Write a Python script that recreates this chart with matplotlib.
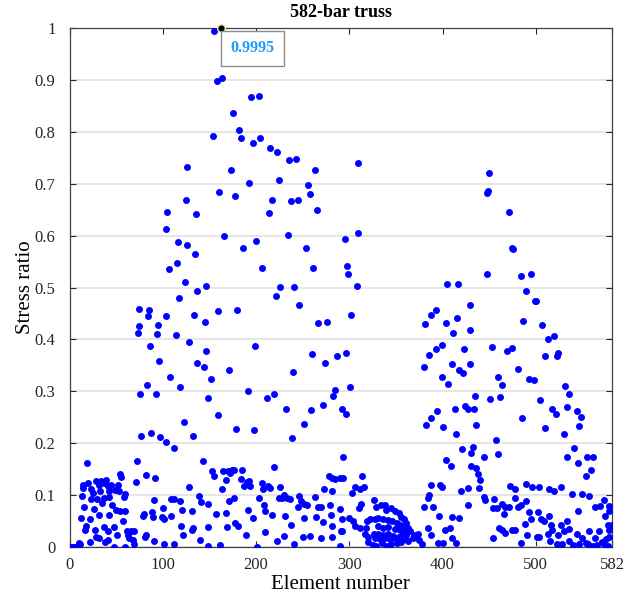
import numpy as np
import matplotlib.pyplot as plt

plt.rcParams['font.family'] = ['Liberation Serif', 'DejaVu Serif']

# first arch (elements ~70-310), upper points
elem_arch1 = [155, 158, 154, 126, 160, 125, 105, 136, 104, 116, 126, 135, 115, 107, 124, 146, 137, 117,
              75, 85, 84, 104, 134, 159, 74, 95, 145, 73, 94, 114, 86, 128, 146, 96, 137, 144, 108, 152,
              83, 118, 76, 93, 148, 159, 123, 77, 87, 97, 103, 132, 112, 72, 143, 153, 155,
              162, 164, 195, 203, 175, 182, 184, 197, 204, 215, 223, 235, 243, 263, 309, 173, 193, 225,
              256, 258, 177, 217, 237, 245, 214, 265, 166, 200, 234, 186, 254, 295, 309, 206, 261, 298,
              299, 221, 226, 241, 246, 308, 180, 267, 276, 302, 199, 260, 287, 296, 171, 274, 240, 191,
              212, 219, 283, 285, 301, 232, 259, 272, 292, 297, 252, 179, 198, 239, 293]
ratio_arch1 = [0.995, 0.898, 0.792, 0.733, 0.684, 0.668, 0.645, 0.641, 0.613, 0.588, 0.583, 0.565, 0.548,
               0.536, 0.511, 0.503, 0.493, 0.479, 0.459, 0.457, 0.445, 0.446, 0.448, 0.454, 0.426, 0.427,
               0.434, 0.412, 0.411, 0.408, 0.388, 0.395, 0.378, 0.359, 0.355, 0.347, 0.328, 0.324, 0.312,
               0.308, 0.294, 0.294, 0.287, 0.255, 0.240, 0.214, 0.219, 0.212, 0.202, 0.213, 0.190, 0.165,
               0.166, 0.147, 0.136,
               0.9995, 0.904, 0.868, 0.869, 0.837, 0.804, 0.788, 0.779, 0.788, 0.769, 0.761, 0.745, 0.747,
               0.727, 0.741, 0.726, 0.701, 0.708, 0.697, 0.681, 0.677, 0.668, 0.666, 0.669, 0.643, 0.650,
               0.599, 0.589, 0.601, 0.576, 0.577, 0.594, 0.606, 0.537, 0.537, 0.542, 0.526, 0.484, 0.501,
               0.501, 0.467, 0.503, 0.456, 0.431, 0.434, 0.448, 0.388, 0.372, 0.368, 0.373, 0.342, 0.355,
               0.337, 0.300, 0.288, 0.294, 0.291, 0.302, 0.309, 0.266, 0.264, 0.273, 0.265, 0.257, 0.237,
               0.227, 0.225, 0.210, 0.173]

# second arch (elements ~380-560), upper points
elem_arch2 = [450, 448, 449, 448, 405, 417, 429, 381, 388, 393, 404, 416, 411, 429, 453, 399, 393, 386,
              423, 380, 410, 430, 418, 422, 399, 406, 459, 435, 451, 394, 388, 382, 400, 413, 424, 427,
              434, 436, 415, 457, 445, 404, 409, 421, 433, 431, 460,
              471, 474, 476, 484, 495, 489, 499, 500, 486, 507, 513, 520, 469, 474, 510, 523, 524, 481,
              464, 493, 498, 462, 531, 536, 505, 517, 522, 534, 544, 549, 546, 485, 510, 530, 541, 534,
              545, 555, 561, 559, 554]
ratio_arch2 = [0.721, 0.682, 0.686, 0.526, 0.507, 0.507, 0.467, 0.430, 0.447, 0.456, 0.431, 0.441, 0.412,
               0.418, 0.385, 0.389, 0.381, 0.370, 0.381, 0.347, 0.353, 0.353, 0.342, 0.335, 0.328, 0.314,
               0.328, 0.291, 0.286, 0.262, 0.248, 0.235, 0.232, 0.266, 0.272, 0.265, 0.266, 0.235, 0.218,
               0.207, 0.174, 0.168, 0.156, 0.188, 0.192, 0.182, 0.180,
               0.645, 0.577, 0.574, 0.523, 0.527, 0.493, 0.475, 0.475, 0.436, 0.428, 0.401, 0.406, 0.378,
               0.384, 0.369, 0.369, 0.373, 0.344, 0.312, 0.323, 0.322, 0.290, 0.311, 0.295, 0.283, 0.265,
               0.257, 0.269, 0.263, 0.251, 0.233, 0.249, 0.229, 0.218, 0.190, 0.174, 0.162, 0.174, 0.173,
               0.148, 0.136]

# low band, elements 0-300
elem_low1 = [19, 54, 55, 82, 92, 71, 128, 139, 14, 20, 14, 28, 34, 39, 32, 37, 41, 44, 23, 25, 33, 42, 52,
             49, 53, 60, 58, 13, 23, 30, 37, 42, 35, 46, 16, 26, 50, 54, 60, 32, 42, 12, 22, 57, 18, 37,
             48, 17, 27, 62, 66, 69, 41, 51, 28, 32, 41, 38, 22, 63, 64, 68, 69, 48, 59, 10, 1, 3, 5, 7,
             9, 11, 80, 79, 89, 90, 100, 99, 101, 109, 91, 109, 112, 119, 121, 131, 81, 82, 91, 101, 112,
             120, 122, 131, 132, 140, 141,
             165, 170, 174, 176, 185, 168, 172, 184, 187, 190, 194, 193, 164, 206, 208, 213, 215, 219,
             226, 225, 228, 230, 233, 236, 246, 248, 252, 255, 245, 263, 267, 270, 273, 282, 278, 281,
             285, 290, 293, 148, 171, 176, 157, 168, 191, 203, 209, 210, 217, 231, 251, 264, 272, 279,
             280, 290, 149, 169, 178, 181, 197, 237, 281, 291, 189, 210, 222, 230, 250, 258, 270, 282,
             149, 161, 201, 241, 290]
ratio_low1 = [0.161, 0.141, 0.135, 0.138, 0.133, 0.125, 0.115, 0.099, 0.119, 0.123, 0.113, 0.127, 0.128,
              0.129, 0.120, 0.123, 0.117, 0.120, 0.111, 0.105, 0.108, 0.108, 0.120, 0.109, 0.107, 0.103,
              0.097, 0.099, 0.093, 0.093, 0.095, 0.097, 0.085, 0.080, 0.078, 0.073, 0.071, 0.070, 0.070,
              0.062, 0.061, 0.056, 0.053, 0.050, 0.041, 0.039, 0.039, 0.032, 0.032, 0.030, 0.030, 0.030,
              0.030, 0.023, 0.020, 0.017, 0.013, 0.010, 0.010, 0.023, 0.017, 0.013, 0.005, 0.000, 0.000,
              0.008, 0.000, 0.000, 0.000, 0.000, 0.000, 0.005, 0.063, 0.060, 0.067, 0.057, 0.075, 0.057,
              0.053, 0.059, 0.091, 0.093, 0.092, 0.089, 0.072, 0.070, 0.020, 0.023, 0.011, 0.005, 0.005,
              0.040, 0.023, 0.033, 0.037, 0.013, 0.087,
              0.147, 0.147, 0.149, 0.149, 0.148, 0.130, 0.143, 0.131, 0.118, 0.125, 0.118, 0.128, 0.112,
              0.123, 0.112, 0.117, 0.113, 0.155, 0.115, 0.095, 0.095, 0.101, 0.095, 0.093, 0.099, 0.088,
              0.083, 0.080, 0.077, 0.097, 0.077, 0.077, 0.112, 0.108, 0.137, 0.133, 0.131, 0.133, 0.133,
              0.083, 0.088, 0.095, 0.063, 0.065, 0.072, 0.095, 0.081, 0.070, 0.061, 0.060, 0.055, 0.057,
              0.048, 0.080, 0.061, 0.073, 0.039, 0.039, 0.047, 0.041, 0.055, 0.043, 0.041, 0.030, 0.023,
              0.028, 0.012, 0.021, 0.019, 0.021, 0.017, 0.020, 0.001, 0.003, 0.000, 0.005, 0.001]

# elements ~300-380, incl. the ring-shaped cluster
elem_low2 = [306, 303, 311, 316, 314, 313, 310, 292, 300, 304, 306, 311, 318, 292,
             326, 329, 334, 338, 339, 345, 349, 353, 356, 359, 361, 363, 319, 322, 328, 331, 336, 342,
             346, 351, 354, 358, 317, 320, 326, 331, 336, 342, 347, 353, 358, 361, 320, 325, 329, 335,
             340, 345, 351, 356, 363, 368, 372, 375, 378, 374, 369, 365, 331, 336, 342, 349, 354, 360,
             328, 333, 338, 344, 349, 354, 360]
ratio_low2 = [0.116, 0.105, 0.111, 0.115, 0.137, 0.083, 0.075, 0.053, 0.055, 0.050, 0.040, 0.037, 0.037,
              0.030,
              0.090, 0.077, 0.081, 0.081, 0.072, 0.075, 0.070, 0.065, 0.058, 0.053, 0.047, 0.037, 0.050,
              0.053, 0.053, 0.055, 0.053, 0.052, 0.050, 0.047, 0.043, 0.040, 0.025, 0.020, 0.025, 0.025,
              0.023, 0.025, 0.021, 0.020, 0.027, 0.023, 0.010, 0.003, 0.001, 0.008, 0.001, 0.005, 0.008,
              0.010, 0.012, 0.017, 0.020, 0.013, 0.005, 0.025, 0.023, 0.030, 0.040, 0.037, 0.039, 0.035,
              0.032, 0.030, 0.017, 0.015, 0.017, 0.015, 0.017, 0.015, 0.015]

# low band, elements 380-582
elem_low3 = [436, 438, 440, 431, 388, 397, 399, 385, 384, 420, 427, 427, 380, 390, 396, 410, 418, 384,
             403, 408, 410, 388, 395, 400, 415,
             439, 444, 446, 455, 454, 458, 464, 467, 471, 466, 478, 481, 484, 489, 472, 478, 490, 496,
             503, 514, 520, 527, 539, 550, 557, 573, 569, 564, 579, 579, 574, 582, 545, 533, 527, 493,
             502, 495, 506, 509, 514, 516, 488, 478, 474, 461, 464, 467, 454, 491, 501, 504, 513, 517,
             524, 530, 536, 544, 515, 523, 528, 484, 536, 540, 546, 550, 554, 557, 563, 568, 571, 573,
             577, 566, 561, 556, 575, 579, 579, 577]
ratio_low3 = [0.152, 0.140, 0.130, 0.157, 0.120, 0.120, 0.115, 0.101, 0.095, 0.107, 0.113, 0.080, 0.077,
              0.077, 0.060, 0.057, 0.055, 0.037, 0.033, 0.037, 0.017, 0.023, 0.007, 0.007, 0.008,
              0.113, 0.097, 0.090, 0.093, 0.075, 0.075, 0.083, 0.077, 0.077, 0.063, 0.095, 0.077, 0.080,
              0.088, 0.118, 0.111, 0.122, 0.115, 0.115, 0.112, 0.108, 0.115, 0.102, 0.102, 0.099, 0.090,
              0.079, 0.077, 0.079, 0.070, 0.060, 0.043, 0.070, 0.050, 0.042, 0.067, 0.067, 0.053, 0.053,
              0.050, 0.060, 0.043, 0.045, 0.033, 0.032, 0.037, 0.033, 0.027, 0.018, 0.023, 0.019, 0.019,
              0.025, 0.032, 0.023, 0.030, 0.035, 0.025, 0.012, 0.005, 0.005, 0.008, 0.012, 0.003, 0.005,
              0.017, 0.008, 0.030, 0.017, 0.030, 0.010, 0.005, 0.001, 0.003, 0.001, 0.005, 0.015, 0.020,
              0.032, 0.043]

# data tip
tip_elem = 162
tip_ratio = 0.9995
tip_label = '0.9995'

x_ticks = [0, 100, 200, 300, 400, 500, 582]
y_ticks = [0, 0.1, 0.2, 0.3, 0.4, 0.5, 0.6, 0.7, 0.8, 0.9, 1]
y_labels = ['0', '0.1', '0.2', '0.3', '0.4', '0.5', '0.6', '0.7', '0.8', '0.9', '1']

elem = np.concatenate([elem_arch1, elem_arch2, elem_low1, elem_low2, elem_low3])
ratio = np.concatenate([ratio_arch1, ratio_arch2, ratio_low1, ratio_low2, ratio_low3])

fig = plt.figure(figsize=(6.4, 6.04), dpi=100)
ax = fig.add_axes([0.1086, 0.0944, 0.848, 0.859])

ax.plot(elem, ratio, 'o', color='#0000ff', ms=5.0, mew=0, zorder=3)

# datatip marker + box
ax.plot([tip_elem], [tip_ratio], 'o', color='black', ms=5.5, mec='#f5f0a0', mew=1.0,
        zorder=5, clip_on=False)
ax.text(tip_elem + 34, tip_ratio - 0.038, tip_label, ha='center', va='center',
        fontsize=11.5, fontweight='bold', color='#1e9bff', zorder=6,
        bbox=dict(boxstyle='square,pad=0.6', fc='white', ec='#8c8c8c', lw=1.0))

ax.set_xlim(0, 582)
ax.set_ylim(0, 1)
ax.set_xticks(x_ticks)
ax.set_yticks(y_ticks)
ax.set_yticklabels(y_labels)

ax.grid(axis='y', color='#e4e4e4', lw=1.3, zorder=0)
ax.set_axisbelow(True)
ax.tick_params(direction='in', length=4, width=0.8, top=True, right=True,
               labelsize=12, colors='#262626')
ax.tick_params(axis='y', pad=10)
ax.tick_params(axis='x', pad=7)
for s in ax.spines.values():
    s.set_color('#404040')
    s.set_linewidth(0.9)

ax.set_xlabel('Element number', fontsize=15, labelpad=2)
ax.set_ylabel('Stress ratio', fontsize=15, labelpad=-0.5)
ax.set_title('582-bar truss', fontsize=13, fontweight='bold', pad=8)

fig.savefig('out.png', dpi=100)
